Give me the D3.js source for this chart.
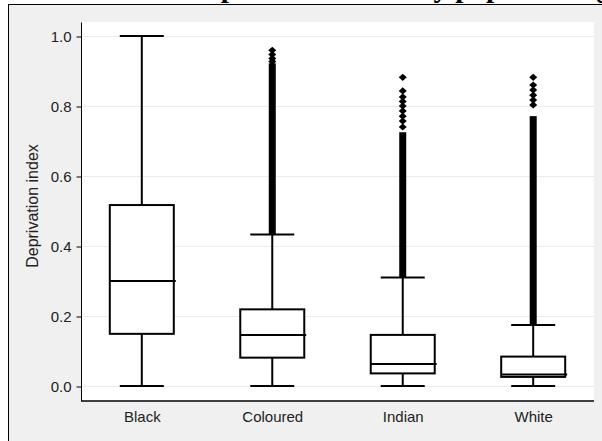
<!DOCTYPE html>
<html>
<head>
<meta charset="utf-8">
<script src="https://cdn.jsdelivr.net/npm/d3@7"></script>
<style>
  body { margin: 0; background: #fff; }
  text { font-family: "Liberation Sans", Arial, sans-serif; fill: #222; }
</style>
</head>
<body>
<svg id="chart" width="602" height="441"></svg>
<script>
// box plot values
var groups = ["Black", "Coloured", "Indian", "White"];
var lowWhisker = [0, 0, 0, 0];
var q1 = [0.149, 0.081, 0.036, 0.026];
var medians = [0.30, 0.146, 0.063, 0.033];
var q3 = [0.517, 0.219, 0.146, 0.084];
var highWhisker = [1.0, 0.433, 0.31, 0.174];
// outliers: a solid run of overlapping points, then single points above it
var denseTop = [null, 0.922, 0.725, 0.771];
var outliers = [
  [],
  [0.959, 0.947, 0.936, 0.927],
  [0.882, 0.843, 0.826, 0.813, 0.80, 0.786, 0.771, 0.757, 0.74],
  [0.882, 0.86, 0.846, 0.831, 0.817, 0.803]
];
var yTicks = [0, 0.2, 0.4, 0.6, 0.8, 1.0];

var svg = d3.select("#chart");

// grey frame
svg.append("rect")
  .attr("x", 8.5).attr("y", 4.5)
  .attr("width", 620).attr("height", 460)
  .attr("fill", "#f0f0f0").attr("stroke", "#000");

// title, mostly cut off above the picture
svg.append("text")
  .attr("x", 187).attr("y", -3)
  .style("font-family", "'Liberation Serif', 'Times New Roman', serif")
  .style("font-weight", "bold").style("font-size", "29px")
  .style("fill", "#000")
  .text("Deprivation index by population group");

var pLeft = 81, pRight = 594, pTop = 22, pBottom = 401;

svg.append("rect")
  .attr("x", pLeft).attr("y", pTop)
  .attr("width", pRight - pLeft).attr("height", pBottom - pTop)
  .attr("fill", "#fff");

var x = d3.scalePoint().domain(groups).range([pLeft, pRight]).padding(0.466);
var y = d3.scaleLinear().domain([0, 1]).range([386, 36]);

// gridlines
svg.append("g").selectAll("line").data(yTicks).enter().append("line")
  .attr("x1", pLeft).attr("x2", pRight)
  .attr("y1", function(d){ return y(d) + 0.5; })
  .attr("y2", function(d){ return y(d) + 0.5; })
  .attr("stroke", "#ebebeb").attr("stroke-width", 1);

// y axis
var yAxis = svg.append("g")
  .attr("transform", "translate(" + (pLeft + 0.5) + ",0.5)")
  .call(d3.axisLeft(y).tickValues(yTicks).tickFormat(d3.format(".1f")).tickSize(5).tickPadding(5));
yAxis.select(".domain").attr("d", "M0," + pTop + "V" + (pBottom - 0.5)).attr("stroke", "#000");
yAxis.selectAll(".tick line").attr("stroke", "#000");
yAxis.selectAll(".tick text").style("font-size", "15px").style("fill", "#222");

// x axis
var xAxis = svg.append("g")
  .attr("transform", "translate(0," + pBottom + ")")
  .call(d3.axisBottom(x).tickSize(0).tickPadding(10));
xAxis.select(".domain").attr("d", "M" + pLeft + ",0H" + pRight).attr("stroke", "#000").attr("stroke-width", 1.5);
xAxis.selectAll(".tick text").style("font-size", "15px").style("fill", "#222");

svg.append("text")
  .attr("transform", "translate(38,206) rotate(-90)")
  .attr("text-anchor", "middle")
  .style("font-size", "16px")
  .text("Deprivation index");

var boxW = 64, capW = 44;
var data = groups.map(function(g, i) {
  return { g: g, lo: lowWhisker[i], q1: q1[i], med: medians[i], q3: q3[i], hi: highWhisker[i],
           dense: denseTop[i], out: outliers[i] };
});

var boxes = svg.append("g").selectAll("g").data(data).enter().append("g")
  .attr("stroke", "#000").attr("stroke-width", 2).attr("fill", "none");

// dense outliers
boxes.filter(function(d){ return d.dense != null; }).append("rect")
  .attr("x", function(d){ return x(d.g) - 3.5; })
  .attr("width", 7)
  .attr("y", function(d){ return y(d.dense); })
  .attr("height", function(d){ return y(d.hi) - y(d.dense); })
  .attr("fill", "#000").attr("stroke", "none");

boxes.each(function(d) {
  d3.select(this).selectAll("path.out").data(d.out).enter().append("path")
    .attr("class", "out")
    .attr("d", function(v) {
      var cx = x(d.g), cy = y(v);
      return "M" + cx + "," + (cy - 3.6) + "L" + (cx + 4) + "," + cy +
             "L" + cx + "," + (cy + 3.6) + "L" + (cx - 4) + "," + cy + "Z";
    })
    .attr("fill", "#000").attr("stroke", "none");
});

// whiskers
boxes.append("line")
  .attr("x1", function(d){ return x(d.g); }).attr("x2", function(d){ return x(d.g); })
  .attr("y1", function(d){ return y(d.hi); }).attr("y2", function(d){ return y(d.lo); });
boxes.append("line")
  .attr("x1", function(d){ return x(d.g) - capW / 2; }).attr("x2", function(d){ return x(d.g) + capW / 2; })
  .attr("y1", function(d){ return y(d.hi); }).attr("y2", function(d){ return y(d.hi); });
boxes.append("line")
  .attr("x1", function(d){ return x(d.g) - capW / 2; }).attr("x2", function(d){ return x(d.g) + capW / 2; })
  .attr("y1", function(d){ return y(d.lo); }).attr("y2", function(d){ return y(d.lo); });

// boxes
boxes.append("rect")
  .attr("x", function(d){ return x(d.g) - boxW / 2; })
  .attr("width", boxW)
  .attr("y", function(d){ return y(d.q3); })
  .attr("height", function(d){ return y(d.q1) - y(d.q3); })
  .attr("fill", "#fff");

// medians
boxes.append("line")
  .attr("x1", function(d){ return x(d.g) - boxW / 2; }).attr("x2", function(d){ return x(d.g) + boxW / 2 + 2; })
  .attr("y1", function(d){ return y(d.med); }).attr("y2", function(d){ return y(d.med); });
</script>
</body>
</html>
